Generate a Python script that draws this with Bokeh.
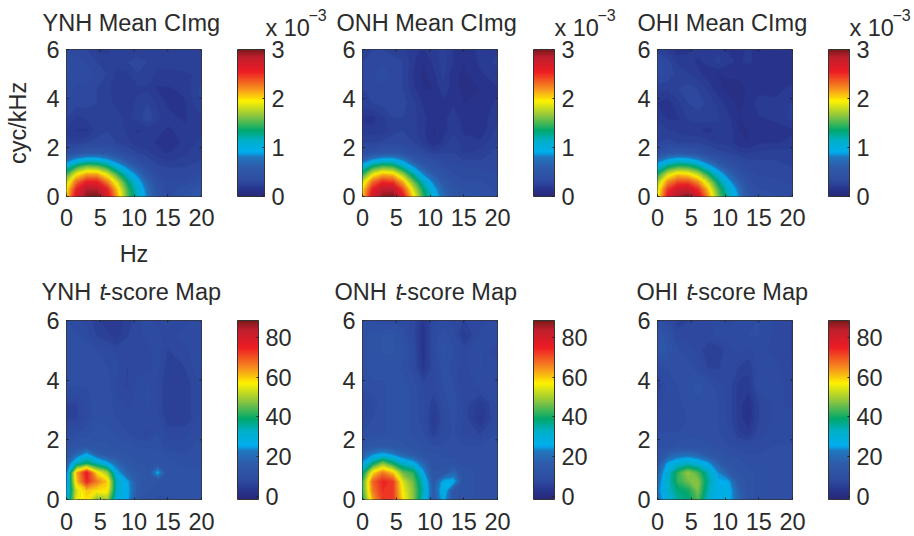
from bokeh.plotting import figure
from bokeh.layouts import column, row
from bokeh.models import ColorBar, FixedTicker, LinearColorMapper
from bokeh.core.properties import value
from bokeh.embed import file_html
from bokeh.resources import INLINE
import numpy as np

x_nodes = [0, 1.5, 3, 4.5, 6, 7.5, 9, 10.5, 12, 13.5, 15, 17.5, 20]
y_nodes = [0, .3, .6, .9, 1.2, 1.5, 1.8, 2.2, 2.7, 3.2, 3.8, 4.4, 5, 5.5, 6]

ynh_mean = [
[2.00,2.70,2.97,3.00,2.70,2.15,1.55,1.15,.80,.50,.35,.45,.60],
[1.95,2.55,2.85,2.85,2.55,2.05,1.50,1.10,.75,.45,.35,.40,.50],
[1.80,2.30,2.55,2.55,2.25,1.85,1.35,1.00,.65,.40,.33,.35,.40],
[1.50,1.95,2.15,2.15,1.90,1.50,1.10,.80,.50,.35,.30,.30,.35],
[1.10,1.45,1.65,1.60,1.40,1.05,.80,.55,.38,.30,.28,.28,.30],
[.70,.90,1.00,1.00,.88,.70,.50,.38,.30,.25,.22,.25,.28],
[.38,.45,.52,.52,.48,.42,.32,.28,.25,.20,.18,.22,.28],
[.25,.25,.28,.30,.30,.28,.25,.20,.20,.18,.15,.20,.25],
[.22,.18,.18,.25,.28,.27,.22,.18,.20,.20,.18,.20,.22],
[.28,.22,.24,.28,.28,.25,.22,.25,.32,.25,.20,.18,.22],
[.32,.30,.30,.28,.25,.22,.20,.25,.28,.22,.18,.18,.28],
[.35,.32,.32,.28,.25,.20,.20,.22,.22,.18,.18,.20,.30],
[.38,.35,.35,.32,.28,.22,.22,.28,.28,.22,.22,.22,.25],
[.38,.35,.32,.28,.25,.25,.28,.30,.28,.25,.25,.28,.25],
[.35,.30,.28,.22,.22,.25,.28,.25,.25,.25,.25,.28,.25],
]
onh_mean = [
[2.05,2.70,2.95,3.00,2.60,2.00,1.45,1.05,.70,.52,.45,.42,.38],
[2.00,2.55,2.80,2.80,2.40,1.85,1.35,.95,.65,.48,.42,.40,.36],
[1.80,2.30,2.50,2.45,2.10,1.60,1.15,.80,.55,.42,.38,.38,.35],
[1.45,1.90,2.10,2.05,1.70,1.25,.85,.60,.45,.38,.35,.35,.33],
[1.05,1.40,1.55,1.50,1.20,.88,.60,.45,.38,.35,.32,.32,.32],
[.65,.85,.95,.95,.80,.55,.42,.38,.33,.30,.28,.28,.30],
[.38,.42,.48,.50,.45,.35,.32,.25,.27,.28,.22,.25,.30],
[.28,.28,.30,.32,.32,.28,.22,.14,.20,.27,.20,.20,.28],
[.20,.20,.20,.26,.28,.25,.20,.13,.16,.22,.18,.15,.25],
[.18,.17,.22,.28,.28,.25,.20,.16,.17,.22,.16,.16,.22],
[.25,.28,.30,.32,.30,.25,.18,.17,.17,.18,.14,.15,.20],
[.28,.30,.32,.32,.28,.20,.13,.14,.22,.16,.12,.14,.18],
[.28,.32,.35,.32,.28,.18,.12,.17,.25,.15,.13,.18,.22],
[.28,.30,.32,.30,.28,.20,.14,.20,.26,.18,.14,.20,.25],
[.25,.28,.28,.26,.25,.20,.18,.22,.25,.18,.16,.20,.22],
]
ohi_mean = [
[1.90,2.60,2.90,3.00,2.70,2.20,1.60,1.20,.85,.50,.40,.38,.35],
[1.85,2.45,2.70,2.75,2.50,2.05,1.50,1.10,.78,.45,.38,.36,.33],
[1.70,2.20,2.40,2.40,2.20,1.80,1.30,.95,.62,.40,.35,.34,.32],
[1.40,1.85,2.05,2.00,1.80,1.42,1.05,.72,.48,.36,.32,.32,.30],
[1.05,1.35,1.50,1.48,1.30,1.00,.72,.50,.38,.32,.30,.30,.28],
[.70,.88,.98,.95,.82,.62,.45,.36,.32,.28,.28,.28,.26],
[.38,.48,.50,.48,.42,.35,.30,.27,.24,.22,.24,.26,.25],
[.28,.30,.28,.27,.27,.25,.22,.22,.15,.14,.18,.18,.20],
[.28,.24,.22,.20,.20,.16,.22,.22,.14,.14,.15,.16,.18],
[.22,.18,.18,.24,.26,.26,.24,.20,.14,.15,.18,.20,.25],
[.18,.16,.22,.28,.30,.27,.22,.16,.13,.15,.22,.20,.24],
[.25,.24,.28,.30,.28,.22,.15,.12,.12,.15,.16,.17,.20],
[.35,.32,.26,.24,.20,.16,.14,.15,.15,.15,.16,.16,.16],
[.35,.30,.22,.20,.18,.20,.25,.20,.18,.20,.16,.16,.16],
[.25,.22,.15,.18,.20,.20,.22,.18,.16,.20,.16,.14,.16],
]
ynh_t = [
[28,55,58,48,50,28,26,15,12,11,11,12,12],
[24,54,60,58,58,31,27,16,13,12,12,12,12],
[22,60,74,66,60,31,26,16,13,13,12,12,12],
[20,62,76,58,50,27,18,15,13,27,12,12,12],
[18,34,40,34,27,20,15,13,12,13,12,11,11],
[14,20,27,18,15,14,13,12,12,12,11,10,11],
[12,13,13,13,13,12,12,11,11,11,9,9,11],
[9,10,11,12,12,11,10,9,8,10,8,8,10],
[7,7,9,11,11,10,9,9,9,9,6,6,9],
[7,7,9,11,11,9,8,9,10,8,6,6,9],
[10,10,10,11,11,8,7,9,10,8,6,6,9],
[11,11,11,11,10,9,7,8,8,9,6,7,10],
[11,11,11,10,9,8,8,8,8,9,7,8,10],
[10,10,9,7,6,5,7,8,9,9,8,9,9],
[10,9,8,6,5,5,6,8,9,8,9,8,9],
]
onh_t = [
[40,62,72,72,58,48,32,16,27,13,12,11,11],
[42,66,73,72,56,48,34,16,30,14,12,11,11],
[42,68,74,72,54,46,32,15,27,27,12,11,11],
[36,58,66,60,46,42,26,13,14,20,12,11,11],
[26,38,48,40,32,28,20,12,12,12,11,11,11],
[18,24,27,24,19,16,13,12,11,11,11,11,11],
[13,14,15,14,13,12,11,10,10,11,10,10,11],
[10,11,11,12,12,11,10,6,9,10,8,7,10],
[8,10,11,12,12,11,9,5,8,11,8,4,9],
[7,9,11,12,12,11,9,6,9,11,8,5,9],
[10,11,11,12,12,11,8,8,10,10,7,9,10],
[11,12,12,12,11,9,4,8,11,9,8,10,9],
[11,12,13,13,12,9,3,9,12,10,8,10,7],
[11,12,13,13,11,8,3,9,11,9,5,9,9],
[10,10,9,9,9,8,4,8,9,8,7,8,9],
]
ohi_t = [
[20,30,36,38,44,32,26,27,20,12,11,11,11],
[22,32,38,40,47,34,27,28,18,12,11,11,11],
[20,32,42,46,48,36,26,26,15,12,11,11,11],
[17,31,42,49,44,34,24,17,13,12,11,11,11],
[14,26,30,33,30,26,18,13,12,11,11,11,11],
[12,17,20,21,19,15,13,11,11,10,10,11,10],
[11,11,12,12,12,12,11,10,9,9,9,10,10],
[10,10,10,11,11,10,10,9,6,5,8,9,9],
[9,9,9,10,11,10,10,8,5,3,7,9,9],
[8,9,9,11,11,11,10,8,5,3,7,9,8],
[6,9,10,11,12,11,9,8,5,5,9,9,8],
[9,10,11,11,9,7,7,8,7,6,9,9,7],
[15,13,10,9,8,6,6,8,9,8,9,8,7],
[14,12,8,8,8,8,9,9,9,10,10,8,7],
[10,9,6,7,8,8,9,8,9,9,10,8,7],
]

x_ticks = [0, 5, 10, 15, 20]
y_ticks = [0, 2, 4, 6]
mean_ticks = [0, 1, 2, 3]
t_ticks = [0, 20, 40, 60, 80]
mean_range = (0, 3)
t_range = (-1.3, 88.3)
group_names = ["YNH", "ONH", "OHI"]

INK = "#2b2b2b"
FONT = "Liberation Sans"
SIZE = "23.5px"
stops = [(0, "#29287a"), (.05, "#28358d"), (.1, "#2d4aa0"), (.2, "#2f5cab"), (.27, "#1f78bf"), (.30, "#00aeef"),
         (.38, "#00b0c8"), (.45, "#00a86b"), (.55, "#8dc63f"), (.65, "#fff200"), (.73, "#f7941d"),
         (.85, "#ed1c24"), (.95, "#be1e2d"), (1, "#7a1a1a")]


def ramp(n):
    pos = [s[0] for s in stops]
    rgb = np.array([[int(s[1][i:i + 2], 16) for i in (1, 3, 5)] for s in stops], float)
    f = np.linspace(0, 1, n)
    return ["#%02x%02x%02x" % tuple(int(round(np.interp(t, pos, rgb[:, k]))) for k in range(3)) for t in f]


def strip(height):
    s = figure(width=914, height=height, x_range=(0, 914), y_range=(height, 0), output_backend="svg",
               toolbar_location=None, x_axis_location=None, y_axis_location=None, min_border=0,
               outline_line_color=None)
    s.grid.visible = False
    return s


def add_label(s, x, y, text, size=SIZE, style="normal"):
    s.text([x], [y], text=[text], text_font=value(FONT), text_font_size=value(size),
           text_font_style=style, text_color=INK, text_baseline="middle", text_align="left")


FRAME_W = 135


def panel(z, rng, ticks, width, height, top, frame_h, bar_x, bar_w, std_x):
    left = 66
    p = figure(width=width, height=height, x_range=(0, 20), y_range=(0, 6), output_backend="svg",
               toolbar_location=None, min_border_left=left, min_border_right=width - left - FRAME_W,
               min_border_top=top, min_border_bottom=height - top - frame_h,
               background_fill_color="#2d4aa0", outline_line_color="#333333", outline_line_width=1)
    p.grid.visible = False
    p.xaxis.ticker = FixedTicker(ticks=x_ticks)
    p.yaxis.ticker = FixedTicker(ticks=y_ticks)
    for ax in (p.below[0], p.left[0]):
        ax.major_tick_in = 2
        ax.major_tick_out = 0
        ax.minor_tick_in = 0
        ax.minor_tick_out = 0
        ax.axis_line_color = None
        ax.major_tick_line_color = "#222222"
        ax.major_label_text_font = FONT
        ax.major_label_text_font_size = SIZE
        ax.major_label_text_color = INK
        ax.axis_label_text_font = FONT
        ax.axis_label_text_font_size = SIZE
        ax.axis_label_text_font_style = "normal"
        ax.axis_label_text_color = INK
    p.left[0].major_label_standoff = 7
    p.below[0].major_label_standoff = std_x
    n = 64
    levels = np.linspace(rng[0], rng[1] + 1e-6, n + 1)
    p.contour(x_nodes, y_nodes, np.array(z, float), levels=levels.tolist(), fill_color=ramp(n),
              line_color=ramp(n + 1), line_width=1)
    # opposite-side tick marks of the box
    p.segment(x_ticks, [6] * 5, x_ticks, [6 - 2 * 6 / frame_h] * 5, line_color="#222222", line_width=1)
    p.segment([20] * 4, y_ticks, [20 - 2 * 20 / FRAME_W] * 4, y_ticks, line_color="#222222", line_width=1)
    mapper = LinearColorMapper(palette=ramp(256), low=rng[0], high=rng[1])
    cb = ColorBar(color_mapper=mapper, ticker=FixedTicker(ticks=ticks), width=bar_w, height=frame_h,
                  location=(bar_x, 0), margin=0, padding=0,
                  major_label_text_font=FONT, major_label_text_font_size=SIZE,
                  major_label_text_color=INK, major_tick_in=2, major_tick_line_color="#222222",
                  minor_tick_line_color=None, bar_line_color="#333333", border_line_color=None,
                  background_fill_color=None, label_standoff=7)
    p.add_layout(cb)
    return p


widths = [296, 295, 323]
row1, row2 = [], []
sets1 = [ynh_mean, onh_mean, ohi_mean]
sets2 = [ynh_t, onh_t, ohi_t]
bars1 = [27, 21, 21]
frame_left = [66, 362, 657]
bar_left = [237, 533, 828]
title1_x = [42, 336, 637]
expo_x = [265, 554, 849]
expo_sup_x = [308, 597, 892]
title2_x = [41, 334, 636]
t_x = [99, 395, 686]
rest_x = [103, 399, 690]
S1, S2 = 39, 28
H1, H2 = 241, 228
FH1, FH2 = 147, 179
strip1, strip2 = strip(S1), strip(S2)
for i in range(3):
    fl = frame_left[i]
    p = panel(sets1[i], mean_range, mean_ticks, widths[i], H1, 10, FH1, bar_left[i] - fl, bars1[i], 12)
    add_label(strip1, title1_x[i], 22, f"{group_names[i]} Mean CImg")
    add_label(strip1, expo_x[i], 27, "x 10")
    add_label(strip1, expo_sup_x[i], 14, "\u22123", size="16px")
    if i == 0:
        p.below[0].axis_label = "Hz"
        p.below[0].axis_label_standoff = 12
        p.left[0].axis_label = "cyc/kHz"
        p.left[0].axis_label_standoff = 12
    row1.append(p)

    q = panel(sets2[i], t_range, t_ticks, widths[i], H2, 12, FH2, bar_left[i] - fl, 21, 13)
    add_label(strip2, title2_x[i], 11, f"{group_names[i]}")
    add_label(strip2, t_x[i], 11, "t", style="italic")
    add_label(strip2, rest_x[i], 11, "-score Map")
    row2.append(q)

page = column(strip1, row(*row1, spacing=0), strip2, row(*row2, spacing=0), spacing=0)
open("out.html", "w").write(file_html(page, INLINE))
